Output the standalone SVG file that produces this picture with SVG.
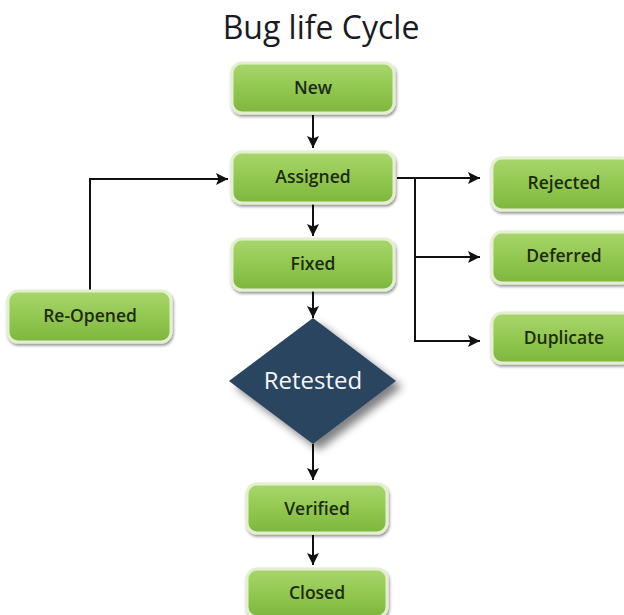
<svg xmlns="http://www.w3.org/2000/svg" width="624" height="615" viewBox="0 0 624 615">
<defs>
<linearGradient id="g" x1="0" y1="0" x2="0" y2="1">
<stop offset="0" stop-color="#a9d66e"/>
<stop offset="0.5" stop-color="#92c850"/>
<stop offset="1" stop-color="#7db63e"/>
</linearGradient>
<filter id="sh" x="-10%" y="-20%" width="125%" height="150%">
<feGaussianBlur in="SourceAlpha" stdDeviation="1.5"/>
<feOffset dx="1" dy="2" result="b"/>
<feComponentTransfer><feFuncA type="linear" slope="0.45"/></feComponentTransfer>
<feMerge><feMergeNode/><feMergeNode in="SourceGraphic"/></feMerge>
</filter>
<filter id="dsh" x="-20%" y="-20%" width="150%" height="150%">
<feGaussianBlur in="SourceAlpha" stdDeviation="4"/>
<feOffset dx="6" dy="6" result="b"/>
<feComponentTransfer><feFuncA type="linear" slope="0.5"/></feComponentTransfer>
<feMerge><feMergeNode/><feMergeNode in="SourceGraphic"/></feMerge>
</filter>
<marker id="ah" viewBox="0 0 12 12" refX="12" refY="6" markerWidth="12" markerHeight="12" markerUnits="userSpaceOnUse" orient="auto">
<path d="M0,0 L12,6 L0,12 L2.5,6 Z" fill="#111"/>
</marker>
</defs>
<style>
.box rect{fill:url(#g);stroke:#e3f0cf;stroke-width:3;filter:url(#sh)}
.box text{font-family:"Open Sans","Liberation Sans",sans-serif;font-size:17.5px;font-weight:600;fill:#1e2b14;text-anchor:middle}
.conn path{fill:none;stroke:#111;stroke-width:2}
.title{font-family:"Open Sans","Liberation Sans",sans-serif;font-size:32px;fill:#1a1a22;text-anchor:middle}
</style>
<rect width="624" height="615" fill="#ffffff"/>
<text class="title" x="321" y="39">Bug life Cycle</text>

<g id="conns" class="conn">
<path d="M313,115 V148" marker-end="url(#ah)"/>
<path d="M313,204 V236" marker-end="url(#ah)"/>
<path d="M313,291 V318" marker-end="url(#ah)"/>
<path d="M313,444 V480" marker-end="url(#ah)"/>
<path d="M313,535 V565" marker-end="url(#ah)"/>
<path d="M90,290 V179 H228" marker-end="url(#ah)"/>
<path d="M397,178 H480" marker-end="url(#ah)"/>
<path d="M415,178 V341 H480" marker-end="url(#ah)"/>
<path d="M415,257 H480" marker-end="url(#ah)"/>
</g>

<g id="new" class="box"><rect x="232" y="63" width="162" height="50" rx="10"/><text x="313" y="94">New</text></g>
<g id="assigned" class="box"><rect x="232" y="152" width="162" height="51" rx="10"/><text x="313" y="183">Assigned</text></g>
<g id="fixed" class="box"><rect x="232" y="239" width="162" height="51" rx="10"/><text x="313" y="270">Fixed</text></g>
<g id="reopened" class="box"><rect x="8" y="291" width="163" height="51" rx="10"/><text x="90" y="322">Re-Opened</text></g>
<g id="rejected" class="box"><rect x="492" y="158" width="140" height="52" rx="10"/><text x="564" y="189">Rejected</text></g>
<g id="deferred" class="box"><rect x="492" y="232" width="140" height="51" rx="10"/><text x="564" y="262">Deferred</text></g>
<g id="duplicate" class="box"><rect x="492" y="313" width="140" height="50" rx="10"/><text x="564" y="344">Duplicate</text></g>
<g id="verified" class="box"><rect x="247" y="484" width="140" height="49" rx="10"/><text x="317" y="515">Verified</text></g>
<g id="closed" class="box"><rect x="247" y="569" width="140" height="48" rx="10"/><text x="317" y="599">Closed</text></g>

<g id="retested">
<polygon points="313,318 396,381 313,444 229,381" fill="#2c4461" filter="url(#dsh)"/>
<text x="313" y="389" font-family="'Open Sans','Liberation Sans',sans-serif" font-size="24" fill="#f4f6f8" text-anchor="middle">Retested</text>
</g>
</svg>
